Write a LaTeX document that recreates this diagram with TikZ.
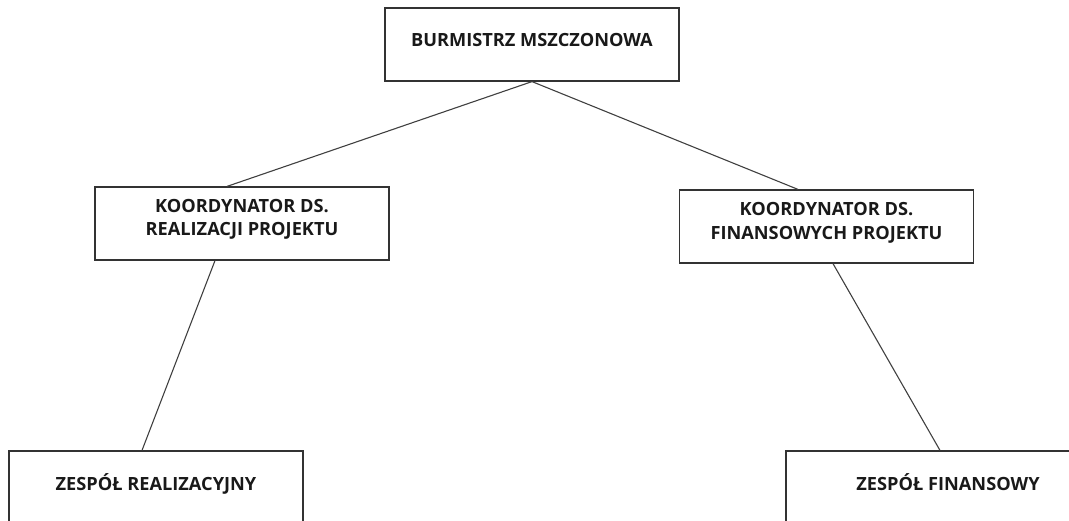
\documentclass[tikz,border=0pt]{standalone}
\usepackage{fontspec}
\setmainfont{Open Sans}
\usetikzlibrary{calc}
\tikzset{
  box/.style={draw=black!80, line width=1.2pt, rectangle, minimum width=294pt, minimum height=73pt, inner sep=0pt, align=center, font=\bfseries\fontsize{18.2}{23.5}\selectfont, text=black!90},
  conn/.style={draw=black!75, line width=1.1pt}
}
\begin{document}
\begin{tikzpicture}[x=1pt,y=-1pt]
\useasboundingbox (0,0) rectangle (1069,520);
\clip (0,0) rectangle (1069,520);
\node[box] (burm) at (532,44.5) {\raisebox{9pt}{BURMISTRZ MSZCZONOWA}};
\node[box] (kr) at (242,223.5) {KOORDYNATOR DS.\\REALIZACJI PROJEKTU\\[-11.5pt]};
\node[box] (kf) at (826.5,226.5) {KOORDYNATOR DS.\\FINANSOWYCH PROJEKTU\\[-12.5pt]};
\node[box] (zr) at (156,487.5) {\raisebox{11pt}{ZESPÓŁ REALIZACYJNY}};
\node[box, minimum width=324pt] (zf) at (948,487.5) {\raisebox{11pt}{ZESPÓŁ FINANSOWY}};
\draw[conn] (burm.south) -- ($(kr.north)+(-15,0)$);
\draw[conn] (burm.south) -- ($(kf.north)+(-28.5,0)$);
\draw[conn] ($(kr.south)+(-27,0)$) -- ($(zr.north)+(-14,0)$);
\draw[conn] ($(kf.south)+(6.5,0)$) -- ($(zf.north)+(-8,0)$);
\end{tikzpicture}
\end{document}
